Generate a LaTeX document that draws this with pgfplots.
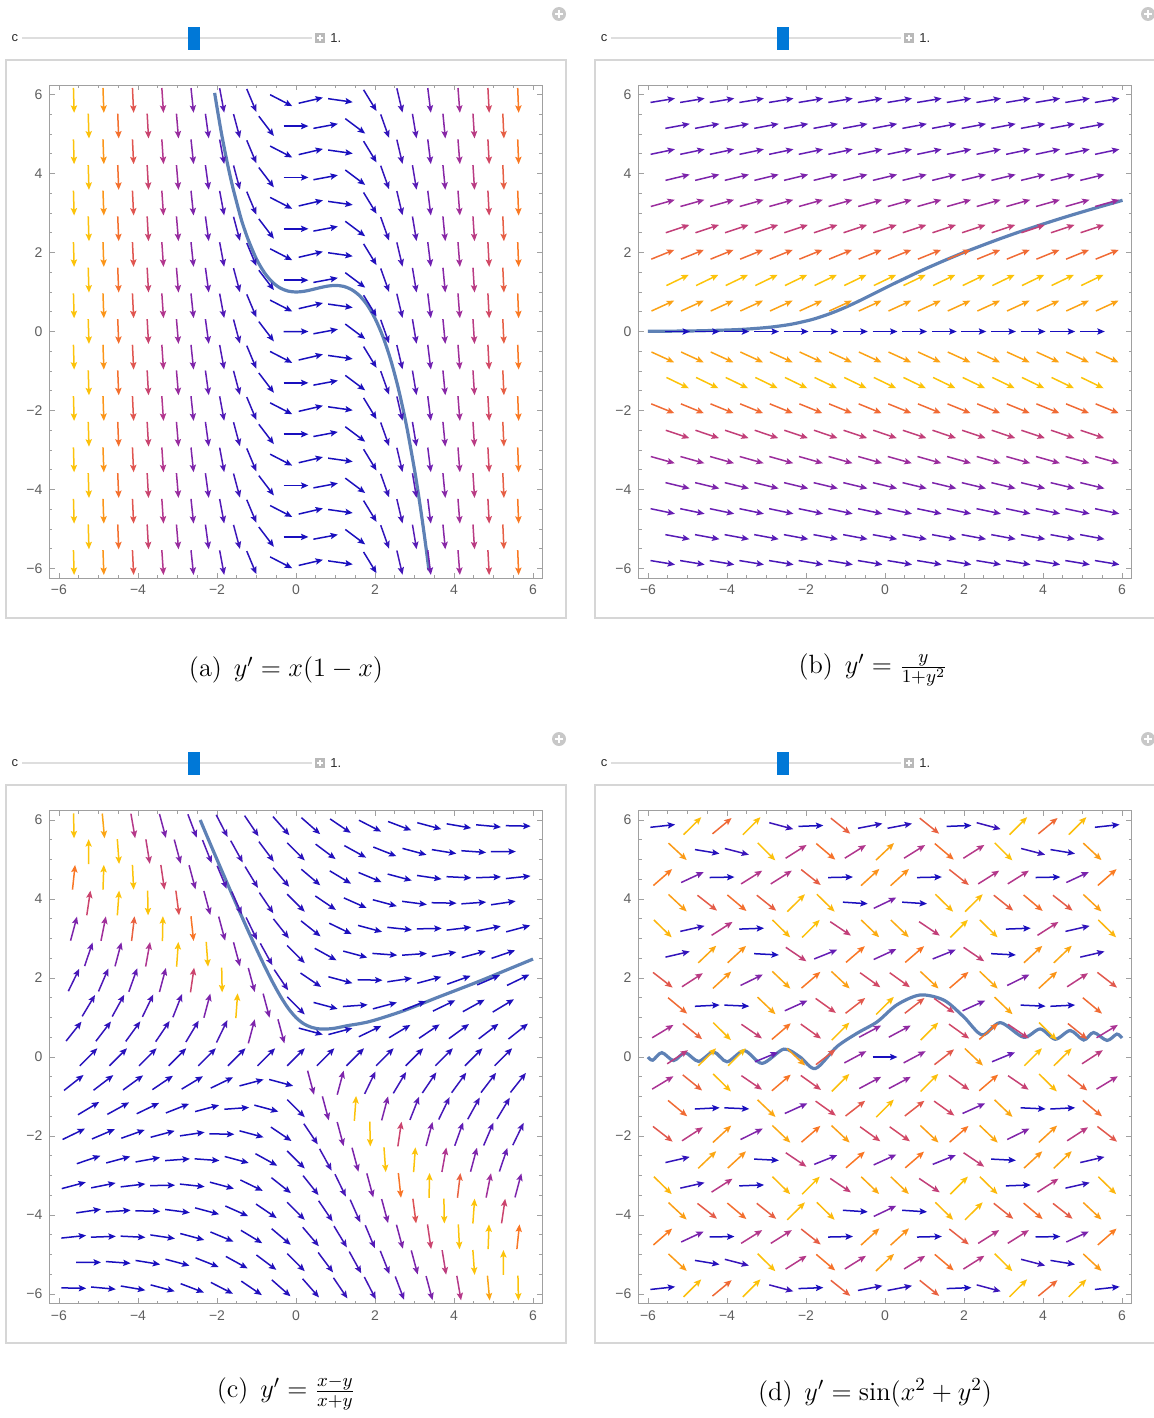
\RequirePackage{fix-cm}
\documentclass[border=0pt]{standalone}
\usepackage{fontspec}
\usepackage{pgfplots}
\pgfplotsset{compat=1.18}
\usepackage{pgfplotstable}
\usetikzlibrary{arrows.meta}
\newfontfamily\uifont{Liberation Sans}
\definecolor{framegray}{RGB}{160,160,160}
\definecolor{labelgray}{RGB}{95,95,95}
\definecolor{curveblue}{RGB}{94,129,181}
\definecolor{panelgray}{RGB}{214,214,214}
\definecolor{trackgray}{RGB}{222,222,222}
\definecolor{thumbblue}{RGB}{0,120,215}
\definecolor{boxgray}{RGB}{185,185,185}
\definecolor{circgray}{RGB}{200,200,200}
\definecolor{uitext}{RGB}{45,45,45}
\pgfplotsset{colormap={mma}{rgb255(0cm)=(25,15,190) rgb255(10cm)=(105,30,180) rgb255(20cm)=(170,50,150) rgb255(29cm)=(215,75,95) rgb255(39cm)=(250,120,35) rgb255(50cm)=(252,195,10)}}

\pgfplotstableread[row sep=\\]{
x y \\
-5.625 5.85 \\ -4.875 5.85 \\ -4.125 5.85 \\ -3.375 5.85 \\ -2.625 5.85 \\ -1.875 5.85 \\ -1.125 5.85 \\ -0.375 5.85 \\ 0.375 5.85 \\ 1.125 5.85 \\ 1.875 5.85 \\ 2.625 5.85 \\ 3.375 5.85 \\ 4.125 5.85 \\ 4.875 5.85 \\ 5.625 5.85 \\
-5.25 5.2 \\ -4.5 5.2 \\ -3.75 5.2 \\ -3 5.2 \\ -2.25 5.2 \\ -1.5 5.2 \\ -0.75 5.2 \\ 0 5.2 \\ 0.75 5.2 \\ 1.5 5.2 \\ 2.25 5.2 \\ 3 5.2 \\ 3.75 5.2 \\ 4.5 5.2 \\ 5.25 5.2 \\
-5.625 4.55 \\ -4.875 4.55 \\ -4.125 4.55 \\ -3.375 4.55 \\ -2.625 4.55 \\ -1.875 4.55 \\ -1.125 4.55 \\ -0.375 4.55 \\ 0.375 4.55 \\ 1.125 4.55 \\ 1.875 4.55 \\ 2.625 4.55 \\ 3.375 4.55 \\ 4.125 4.55 \\ 4.875 4.55 \\ 5.625 4.55 \\
-5.25 3.9 \\ -4.5 3.9 \\ -3.75 3.9 \\ -3 3.9 \\ -2.25 3.9 \\ -1.5 3.9 \\ -0.75 3.9 \\ 0 3.9 \\ 0.75 3.9 \\ 1.5 3.9 \\ 2.25 3.9 \\ 3 3.9 \\ 3.75 3.9 \\ 4.5 3.9 \\ 5.25 3.9 \\
-5.625 3.25 \\ -4.875 3.25 \\ -4.125 3.25 \\ -3.375 3.25 \\ -2.625 3.25 \\ -1.875 3.25 \\ -1.125 3.25 \\ -0.375 3.25 \\ 0.375 3.25 \\ 1.125 3.25 \\ 1.875 3.25 \\ 2.625 3.25 \\ 3.375 3.25 \\ 4.125 3.25 \\ 4.875 3.25 \\ 5.625 3.25 \\
-5.25 2.6 \\ -4.5 2.6 \\ -3.75 2.6 \\ -3 2.6 \\ -2.25 2.6 \\ -1.5 2.6 \\ -0.75 2.6 \\ 0 2.6 \\ 0.75 2.6 \\ 1.5 2.6 \\ 2.25 2.6 \\ 3 2.6 \\ 3.75 2.6 \\ 4.5 2.6 \\ 5.25 2.6 \\
-5.625 1.95 \\ -4.875 1.95 \\ -4.125 1.95 \\ -3.375 1.95 \\ -2.625 1.95 \\ -1.875 1.95 \\ -1.125 1.95 \\ -0.375 1.95 \\ 0.375 1.95 \\ 1.125 1.95 \\ 1.875 1.95 \\ 2.625 1.95 \\ 3.375 1.95 \\ 4.125 1.95 \\ 4.875 1.95 \\ 5.625 1.95 \\
-5.25 1.3 \\ -4.5 1.3 \\ -3.75 1.3 \\ -3 1.3 \\ -2.25 1.3 \\ -1.5 1.3 \\ -0.75 1.3 \\ 0 1.3 \\ 0.75 1.3 \\ 1.5 1.3 \\ 2.25 1.3 \\ 3 1.3 \\ 3.75 1.3 \\ 4.5 1.3 \\ 5.25 1.3 \\
-5.625 0.65 \\ -4.875 0.65 \\ -4.125 0.65 \\ -3.375 0.65 \\ -2.625 0.65 \\ -1.875 0.65 \\ -1.125 0.65 \\ -0.375 0.65 \\ 0.375 0.65 \\ 1.125 0.65 \\ 1.875 0.65 \\ 2.625 0.65 \\ 3.375 0.65 \\ 4.125 0.65 \\ 4.875 0.65 \\ 5.625 0.65 \\
-5.25 0 \\ -4.5 0 \\ -3.75 0 \\ -3 0 \\ -2.25 0 \\ -1.5 0 \\ -0.75 0 \\ 0.001 0 \\ 0.75 0 \\ 1.5 0 \\ 2.25 0 \\ 3 0 \\ 3.75 0 \\ 4.5 0 \\ 5.25 0 \\
-5.625 -0.65 \\ -4.875 -0.65 \\ -4.125 -0.65 \\ -3.375 -0.65 \\ -2.625 -0.65 \\ -1.875 -0.65 \\ -1.125 -0.65 \\ -0.375 -0.65 \\ 0.375 -0.65 \\ 1.125 -0.65 \\ 1.875 -0.65 \\ 2.625 -0.65 \\ 3.375 -0.65 \\ 4.125 -0.65 \\ 4.875 -0.65 \\ 5.625 -0.65 \\
-5.25 -1.3 \\ -4.5 -1.3 \\ -3.75 -1.3 \\ -3 -1.3 \\ -2.25 -1.3 \\ -1.5 -1.3 \\ -0.75 -1.3 \\ 0 -1.3 \\ 0.75 -1.3 \\ 1.5 -1.3 \\ 2.25 -1.3 \\ 3 -1.3 \\ 3.75 -1.3 \\ 4.5 -1.3 \\ 5.25 -1.3 \\
-5.625 -1.95 \\ -4.875 -1.95 \\ -4.125 -1.95 \\ -3.375 -1.95 \\ -2.625 -1.95 \\ -1.875 -1.95 \\ -1.125 -1.95 \\ -0.375 -1.95 \\ 0.375 -1.95 \\ 1.125 -1.95 \\ 1.875 -1.95 \\ 2.625 -1.95 \\ 3.375 -1.95 \\ 4.125 -1.95 \\ 4.875 -1.95 \\ 5.625 -1.95 \\
-5.25 -2.6 \\ -4.5 -2.6 \\ -3.75 -2.6 \\ -3 -2.6 \\ -2.25 -2.6 \\ -1.5 -2.6 \\ -0.75 -2.6 \\ 0 -2.6 \\ 0.75 -2.6 \\ 1.5 -2.6 \\ 2.25 -2.6 \\ 3 -2.6 \\ 3.75 -2.6 \\ 4.5 -2.6 \\ 5.25 -2.6 \\
-5.625 -3.25 \\ -4.875 -3.25 \\ -4.125 -3.25 \\ -3.375 -3.25 \\ -2.625 -3.25 \\ -1.875 -3.25 \\ -1.125 -3.25 \\ -0.375 -3.25 \\ 0.375 -3.25 \\ 1.125 -3.25 \\ 1.875 -3.25 \\ 2.625 -3.25 \\ 3.375 -3.25 \\ 4.125 -3.25 \\ 4.875 -3.25 \\ 5.625 -3.25 \\
-5.25 -3.9 \\ -4.5 -3.9 \\ -3.75 -3.9 \\ -3 -3.9 \\ -2.25 -3.9 \\ -1.5 -3.9 \\ -0.75 -3.9 \\ 0 -3.9 \\ 0.75 -3.9 \\ 1.5 -3.9 \\ 2.25 -3.9 \\ 3 -3.9 \\ 3.75 -3.9 \\ 4.5 -3.9 \\ 5.25 -3.9 \\
-5.625 -4.55 \\ -4.875 -4.55 \\ -4.125 -4.55 \\ -3.375 -4.55 \\ -2.625 -4.55 \\ -1.875 -4.55 \\ -1.125 -4.55 \\ -0.375 -4.55 \\ 0.375 -4.55 \\ 1.125 -4.55 \\ 1.875 -4.55 \\ 2.625 -4.55 \\ 3.375 -4.55 \\ 4.125 -4.55 \\ 4.875 -4.55 \\ 5.625 -4.55 \\
-5.25 -5.2 \\ -4.5 -5.2 \\ -3.75 -5.2 \\ -3 -5.2 \\ -2.25 -5.2 \\ -1.5 -5.2 \\ -0.75 -5.2 \\ 0 -5.2 \\ 0.75 -5.2 \\ 1.5 -5.2 \\ 2.25 -5.2 \\ 3 -5.2 \\ 3.75 -5.2 \\ 4.5 -5.2 \\ 5.25 -5.2 \\
-5.625 -5.85 \\ -4.875 -5.85 \\ -4.125 -5.85 \\ -3.375 -5.85 \\ -2.625 -5.85 \\ -1.875 -5.85 \\ -1.125 -5.85 \\ -0.375 -5.85 \\ 0.375 -5.85 \\ 1.125 -5.85 \\ 1.875 -5.85 \\ 2.625 -5.85 \\ 3.375 -5.85 \\ 4.125 -5.85 \\ 4.875 -5.85 \\ 5.625 -5.85 \\
}\grid

\pgfplotsset{
  sfield/.style={
    scale only axis, width=246.5pt, height=246.5pt,
    xmin=-6.24, xmax=6.24, ymin=-6.24, ymax=6.24,
    xtick={-6,-4,-2,0,2,4,6}, ytick={-6,-4,-2,0,2,4,6},
    xticklabels={−6,−4,−2,0,2,4,6}, yticklabels={−6,−4,−2,0,2,4,6},
    minor tick num=3,
    tick align=inside,
    major tick length=2.6pt, minor tick length=1.5pt,
    axis line style={draw=framegray, line width=0.5pt},
    tick style={draw=framegray, line width=0.45pt},
    tick label style={font=\uifont\fontsize{7}{8}\selectfont, text=labelgray},
    colormap name=mma,
    anchor=south west,
  },
  field/.style={
    quiver={u={0.63/G(\thisrow{x},\thisrow{y})},
            v={0.63*F(\thisrow{x},\thisrow{y})/G(\thisrow{x},\thisrow{y})},
            colored=mapped color,
            every arrow/.append style={-{Stealth[length=3.7pt,width=3.1pt,inset=0.7pt]}, line width=0.75pt}},
  },
  curve/.style={no marks, draw=curveblue, line width=1.6pt, smooth},
}

\begin{document}
\begin{tikzpicture}
\useasboundingbox (0,0) rectangle (576.5pt,-709pt);
\begin{scope}[x=0.5pt,y=-0.5pt]
  \foreach \dx/\dy in {0/0,589/0,0/725,589/725} {
    \begin{scope}[shift={(\dx,\dy)}]
      \draw[panelgray, line width=1pt] (6,60) rectangle (566,618);
      \draw[trackgray, line width=1pt] (22,38) -- (312,38);
      \fill[thumbblue] (188,27) rectangle (200,50);
      \node[font=\uifont\fontsize{6.5}{7}\selectfont, text=uitext] at (15,38) {c};
      \fill[boxgray] (315,33) rectangle (325,43);
      \draw[white, line width=0.6pt] (320,35) -- (320,41) (317,38) -- (323,38);
      \node[anchor=west, inner sep=0pt, font=\uifont\fontsize{6.5}{7}\selectfont, text=uitext] at (330,38.5) {1.};
      \fill[circgray] (559,14) circle (7);
      \draw[white, line width=1.1pt] (559,10) -- (559,18) (555,14) -- (563,14);
    \end{scope}
  }
  \node[font=\fontsize{13.2}{15}\selectfont] at (286,670) {(a)\hspace{0.45em}$y'=x(1-x)$};
  \node[font=\fontsize{13.2}{15}\selectfont] at (873,670) {(b)\hspace{0.45em}$y'=\frac{y}{1+y^2}$};
  \node[font=\fontsize{13.2}{15}\selectfont] at (286,1393) {(c)\hspace{0.45em}$y'=\frac{x-y}{x+y}$};
  \node[font=\fontsize{13.2}{15}\selectfont] at (875,1393) {(d)\hspace{0.45em}$y'=\sin(x^2+y^2)$};
\end{scope}

% (a)
\begin{axis}[sfield, at={(24.75pt,-289pt)},
  declare function={F(\x,\y)=(\x)*(1-(\x)); G(\x,\y)=sqrt(1+(F(\x,\y))^2);},
  point meta min=1, point meta max=33]
\addplot[curve] coordinates {(-2.06,6.04) (-1.9,5.09) (-1.75,4.32) (-1.6,3.65) (-1.4,2.89) (-1.3,2.577) (-1.2,2.30) (-1.0,1.833) (-0.8,1.491) (-0.6,1.252) (-0.4,1.101) (-0.2,1.023) (0,1) (0.2,1.017) (0.4,1.059) (0.6,1.108) (0.8,1.149) (1.0,1.167) (1.2,1.144) (1.4,1.065) (1.6,0.915) (1.8,0.676) (2.0,0.333) (2.2,-0.129) (2.4,-0.728) (2.6,-1.479) (2.8,-2.397) (3.0,-3.5) (3.1,-4.125) (3.2,-4.803) (3.3,-5.534) (3.365,-6.04)};
\addplot[field, point meta={min(G(\thisrow{x},\thisrow{y}),33)}] table[x expr={\thisrow{x}-0.315/G(\thisrow{x},\thisrow{y})}, y expr={\thisrow{y}-0.315*F(\thisrow{x},\thisrow{y})/G(\thisrow{x},\thisrow{y})}]{\grid};
\end{axis}

% (b)
\begin{axis}[sfield, at={(319.25pt,-289pt)},
  declare function={F(\x,\y)=(\y)/(1+(\y)^2); G(\x,\y)=sqrt(1+(F(\x,\y))^2);},
  point meta min=1, point meta max=1.11]
\addplot[curve] coordinates {(-6.0,0.005) (-5.305,0.01) (-4.61,0.02) (-3.69,0.05) (-3.0,0.1) (-2.59,0.15) (-2.29,0.2) (-1.86,0.3) (-1.54,0.4) (-1.27,0.5) (-1.03,0.6) (-0.81,0.7) (-0.60,0.8) (-0.40,0.9) (-0.2,1.0) (0,1.1) (0.20,1.2) (0.41,1.3) (0.62,1.4) (0.83,1.5) (1.05,1.6) (1.28,1.7) (1.51,1.8) (1.75,1.9) (1.99,2.0) (2.25,2.1) (2.78,2.3) (3.34,2.5) (3.94,2.7) (4.57,2.9) (5.24,3.1) (5.94,3.3) (6.0,3.32)};
\addplot[field, point meta={G(\thisrow{x},\thisrow{y})}] table[x expr={\thisrow{x}-0.315/G(\thisrow{x},\thisrow{y})}, y expr={\thisrow{y}-0.315*F(\thisrow{x},\thisrow{y})/G(\thisrow{x},\thisrow{y})}]{\grid};
\end{axis}

% (c)
\begin{axis}[sfield, at={(24.75pt,-651.75pt)},
  declare function={F(\x,\y)=((\x)-(\y))/((\x)+(\y)); G(\x,\y)=sqrt(1+(F(\x,\y))^2);},
  point meta min=1, point meta max=12]
\addplot[curve] coordinates {(-2.425,6.0) (-2.2,5.468) (-2.0,5.0) (-1.8,4.535) (-1.6,4.074) (-1.4,3.618) (-1.2,3.170) (-1.0,2.732) (-0.8,2.310) (-0.6,1.911) (-0.4,1.549) (-0.2,1.239) (0,1) (0.2,0.839) (0.4,0.749) (0.6,0.711) (0.8,0.710) (1.0,0.732) (1.3,0.793) (1.87,0.90) (2.72,1.17) (3.56,1.50) (4.57,1.89) (5.42,2.24) (6.0,2.48)};
\addplot[field, point meta={min(G(\thisrow{x},\thisrow{y}),12)}] table[x expr={\thisrow{x}-0.315/G(\thisrow{x},\thisrow{y})}, y expr={\thisrow{y}-0.315*F(\thisrow{x},\thisrow{y})/G(\thisrow{x},\thisrow{y})}]{\grid};
\end{axis}

% (d)
\begin{axis}[sfield, at={(319.25pt,-651.75pt)},
  declare function={F(\x,\y)=sin(deg((\x)^2+(\y)^2)); G(\x,\y)=sqrt(1+(F(\x,\y))^2);},
  point meta min=1, point meta max=1.4142]
\addplot[curve] coordinates {(-6.0,0.0) (-5.88,-0.08) (-5.65,0.11) (-5.35,-0.09) (-5.06,0.11) (-4.72,-0.11) (-4.34,0.13) (-4.0,-0.12) (-3.56,0.16) (-3.11,-0.16) (-2.56,0.20) (-2.15,0.0) (-1.76,-0.29) (-1.22,0.26) (-0.71,0.60) (-0.20,0.89) (0.30,1.32) (0.89,1.57) (1.49,1.44) (1.99,1.02) (2.46,0.56) (2.92,0.87) (3.51,0.50) (3.93,0.71) (4.31,0.45) (4.69,0.67) (5.03,0.43) (5.28,0.62) (5.62,0.42) (5.87,0.58) (6.0,0.48)};
\addplot[field, point meta={G(\thisrow{x},\thisrow{y})}] table[x expr={\thisrow{x}-0.315/G(\thisrow{x},\thisrow{y})}, y expr={\thisrow{y}-0.315*F(\thisrow{x},\thisrow{y})/G(\thisrow{x},\thisrow{y})}]{\grid};
\end{axis}
\end{tikzpicture}
\end{document}
